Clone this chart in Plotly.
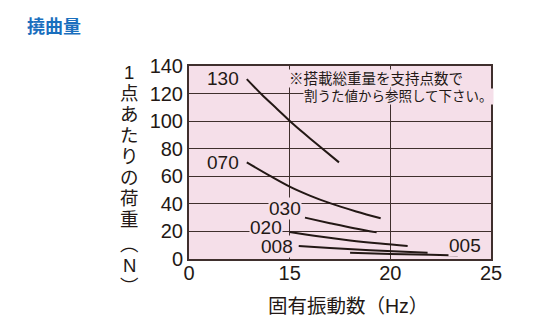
import plotly.graph_objects as go

# ---- data ----
x_tickvals = [10, 15, 20, 25]
x_ticktext = ["0", "15", "20", "25"]
y_tickvals = [0, 20, 40, 60, 80, 100, 120, 140]

series_names = ["130", "070", "030", "020", "008", "005"]
x_130 = [12.87, 13.6, 14.4, 15.2, 16.3, 17.45]
y_130 = [130.5, 119.5, 108.5, 97.5, 84.0, 70.1]
x_070 = [12.87, 14.0, 15.0, 16.0, 17.0, 18.3, 19.52]
y_070 = [70.1, 60.5, 52.5, 46.0, 40.5, 34.5, 29.5]
x_030 = [15.76, 17.0, 18.2, 19.32]
y_030 = [30.0, 26.0, 22.3, 19.3]
x_020 = [15.0, 16.5, 18.0, 19.5, 20.86]
y_020 = [19.6, 16.3, 13.5, 11.2, 9.4]
x_008 = [15.45, 17.0, 19.0, 21.85]
y_008 = [9.4, 7.9, 6.3, 4.6]
x_005 = [18.0, 20.0, 22.0, 23.35]
y_005 = [4.6, 3.6, 3.0, 2.6]

label_x = [11.69, 11.70, 14.77, 13.83, 14.39, 23.71]
label_y = [131.0, 70.1, 36.3, 22.7, 9.4, 9.6]

title_text = "撓曲量"
x_title = "固有振動数（Hz）"
y_title_chars = ["1", "点", "あ", "た", "り", "の", "荷", "重", "︵", "N", "︶"]
note_lines = ["※搭載総重量を支持点数で", "割うた値から参照して下さい。"]

# ---- style ----
INK = "#231815"
GRID = "#3f2f2d"
PINK = "#f5dfe9"
BLUE = "#1a6fbe"
LATIN = "Liberation Sans, Arial, sans-serif"
CJK = "Noto Sans CJK JP, sans-serif"
MIXED = "Liberation Sans, Noto Sans CJK JP, sans-serif"

W, H = 533, 324
L, R, T, B = 189, 491, 66, 259


def px_x(p):
    return (p - L) / (R - L)


def px_y(p):
    return (B - p) / (B - T)


fig = go.Figure()
for xs, ys in [(x_130, y_130), (x_070, y_070), (x_030, y_030),
               (x_020, y_020), (x_008, y_008), (x_005, y_005)]:
    fig.add_trace(go.Scatter(x=xs, y=ys, mode="lines",
                             line=dict(color=INK, width=2, shape="spline"),
                             showlegend=False, hoverinfo="skip"))

annotations = []
for name, lx, ly in zip(series_names, label_x, label_y):
    annotations.append(dict(x=lx, y=ly, xref="x", yref="y", text=name,
                            showarrow=False, bgcolor=PINK, borderpad=0,
                            font=dict(family=LATIN, size=19, color=INK)))

# note inside plot
annotations.append(dict(x=px_x(288), y=px_y(78), xref="paper", yref="paper",
                        text=note_lines[0], showarrow=False, xanchor="left",
                        yanchor="middle", bgcolor=PINK, borderpad=0,
                        font=dict(family=MIXED, size=14.5, color=INK)))
annotations.append(dict(x=px_x(303), y=px_y(96.5), xref="paper", yref="paper",
                        text=note_lines[1], showarrow=False, xanchor="left",
                        yanchor="middle", bgcolor=PINK, borderpad=0,
                        font=dict(family=MIXED, size=13.5, color=INK)))

# chart title
annotations.append(dict(x=px_x(25), y=px_y(27), xref="paper", yref="paper",
                        text="<b>" + title_text + "</b>", showarrow=False,
                        xanchor="left", yanchor="middle",
                        font=dict(family=MIXED, size=18, color=BLUE)))

# x-axis title
annotations.append(dict(x=px_x(348), y=px_y(306), xref="paper", yref="paper",
                        text=x_title, showarrow=False, xanchor="center",
                        yanchor="middle",
                        font=dict(family=MIXED, size=19.5, color=INK)))

# vertical y-axis title (one upright character per line)
y_char_pos = [72, 93, 114, 135, 156, 177, 198, 219, 244, 265, 286]
for ch, py in zip(y_title_chars, y_char_pos):
    annotations.append(dict(x=px_x(129), y=px_y(py), xref="paper", yref="paper",
                            text=ch, showarrow=False, xanchor="center",
                            yanchor="middle",
                            font=dict(family=MIXED, size=18.5, color=INK)))

fig.update_layout(
    width=W, height=H,
    margin=dict(l=L, r=W - R, t=T, b=H - B, pad=0),
    paper_bgcolor="white",
    plot_bgcolor=PINK,
    annotations=annotations,
    showlegend=False,
)
fig.update_xaxes(range=[10, 25], tickvals=x_tickvals, ticktext=x_ticktext,
                 showgrid=True, gridcolor=GRID, gridwidth=1.2,
                 showline=True, linecolor=GRID, linewidth=2, mirror=True,
                 ticks="", zeroline=False, ticklabelstandoff=-5,
                 tickfont=dict(family=LATIN, size=20, color=INK))
fig.update_yaxes(range=[0, 140], tickvals=y_tickvals,
                 showgrid=True, gridcolor=GRID, gridwidth=1.2,
                 showline=True, linecolor=GRID, linewidth=2, mirror=True,
                 ticks="", zeroline=False,
                 tickfont=dict(family=LATIN, size=20, color=INK))

fig.write_html("out.html")
